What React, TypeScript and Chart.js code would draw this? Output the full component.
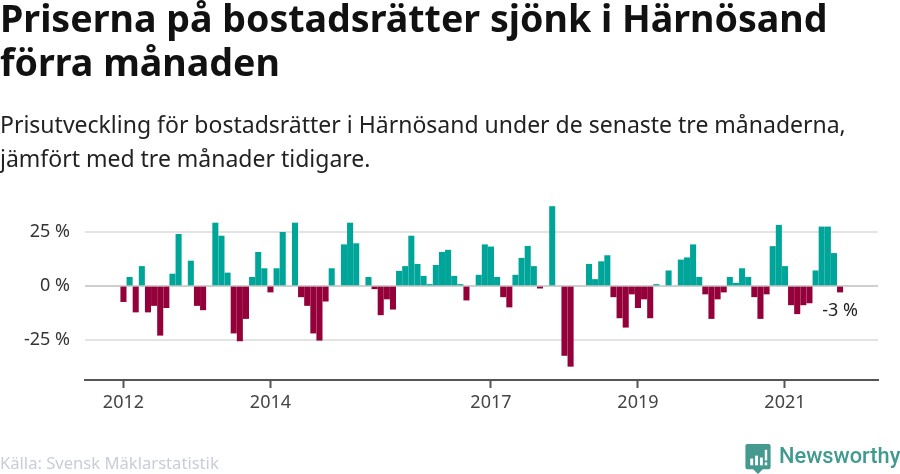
import { useEffect, useRef } from 'react';
import { Chart, registerables, Plugin } from 'chart.js';

Chart.register(...registerables);

const title = 'Priserna på bostadsrätter sjönk i Härnösand förra månaden';
const subtitle =
  'Prisutveckling för bostadsrätter i Härnösand under de senaste tre månaderna, jämfört med tre månader tidigare.';
const source = 'Källa: Svensk Mäklarstatistik';

// en stapel per månad från januari 2012, null = ingen stapel
const monthlyChange: (number | null)[] = [
  -7.2, 4, -12, 9, -12, -9, -22.7, -10, 5.5, 23.8, null, 11.5,
  -9, -11, null, 29, 23, 6, -21.7, -25.3, -15, 4, 15.5, 8,
  -2.8, 8, 24.7, null, 29, -5, -9, -21.7, -25, -7, 8, null,
  19, 29, 19.5, null, 4, -1.3, -13.3, -6, -10.7, 6.8, 9, 23,
  10, 4.5, 0.7, 9.5, 15.5, 16.5, 4.5, 0.7, -6.5, null, 5, 19,
  18, 4, -5, -9.7, 5, 12.8, 18.3, 9, -1, null, 36.6, null,
  -32, -37, null, null, 10, 3, 11.2, 14, -5, -14.7, -19, -3.7,
  -10, -6, -14.7, 0.7, null, 7, null, 12, 13, 19, 4, -3.7,
  -15, -6, -2.8, 4, 1.3, 8, 4, -5, -15, -3.7, 18.2, 28,
  9, -8.7, -12.8, -8.7, -7.8, 7, 27.2, 27.2, 15, -2.8,
];
const yearTickMonths = [0, 24, 60, 84, 108];
const yearTickLabels = ['2012', '2014', '2017', '2019', '2021'];
const valueTicks = [-25, 0, 25];
const lastLabel = '-3 %';

const TEAL = '#00a599';
const CRIMSON = '#93003a';

// skriver ut värdet för sista månaden under stapeln
const lastLabelPlugin: Plugin<'bar'> = {
  id: 'lastLabel',
  afterDatasetsDraw(chart) {
    const { ctx, scales } = chart;
    const x = scales.x.getPixelForValue(monthlyChange.length - 1);
    const y = scales.y.getPixelForValue(-11.6);
    ctx.save();
    ctx.font = '18px "Noto Sans"';
    ctx.fillStyle = '#222';
    ctx.textAlign = 'center';
    ctx.textBaseline = 'middle';
    ctx.fillText(lastLabel, x, y);
    ctx.restore();
  },
};

export default function App() {
  const canvasRef = useRef<HTMLCanvasElement>(null);

  useEffect(() => {
    if (!canvasRef.current) return;
    const chart = new Chart(canvasRef.current, {
      type: 'bar',
      data: {
        datasets: [
          {
            data: monthlyChange.map((y, x) => ({ x, y })) as any,
            backgroundColor: (c: any) => ((c.raw?.y ?? 0) < 0 ? CRIMSON : TEAL),
            barThickness: 5.4,
          },
        ],
      },
      options: {
        animation: false,
        responsive: false,
        layout: { padding: { top: 200, right: 22, left: 0, bottom: 0 } },
        plugins: { legend: { display: false }, tooltip: { enabled: false } },
        scales: {
          x: {
            type: 'linear',
            offset: false,
            min: -6.28,
            max: 123.19,
            afterBuildTicks: (axis) => {
              axis.ticks = yearTickMonths.map((value) => ({ value }));
            },
            afterFit: (axis) => {
              axis.height = 94;
            },
            ticks: {
              autoSkip: false,
              maxRotation: 0,
              padding: 4,
              color: '#444',
              font: { family: 'Noto Sans', size: 18 },
              callback: (v) => yearTickLabels[yearTickMonths.indexOf(Number(v))],
            },
            grid: { offset: false, drawOnChartArea: false, tickLength: 8, tickWidth: 2, color: '#555' },
            border: { color: '#555', width: 2 },
          },
          y: {
            min: -43.3,
            max: 39.6,
            afterBuildTicks: (axis) => {
              axis.ticks = valueTicks.map((value) => ({ value }));
            },
            afterFit: (axis) => {
              axis.width = 85;
            },
            ticks: {
              padding: 15,
              color: '#333',
              font: { family: 'Noto Sans', size: 18 },
              callback: (v) => `${v} %`,
            },
            grid: {
              lineWidth: 2,
              drawTicks: false,
              color: (c) => (c.tick.value === 0 ? '#cfcfcf' : '#e3e3e3'),
            },
            border: { display: false },
          },
        },
      },
      plugins: [lastLabelPlugin],
    });
    return () => chart.destroy();
  }, []);

  return (
    <div
      style={{
        position: 'absolute',
        left: 0,
        top: 0,
        width: 900,
        height: 474,
        overflow: 'hidden',
        background: '#fff',
        fontFamily: '"Noto Sans", sans-serif',
      }}
    >
      <canvas ref={canvasRef} width={900} height={474} style={{ position: 'absolute', left: 0, top: 0 }} />
      <div
        style={{
          position: 'absolute',
          left: 0,
          top: -4,
          width: 880,
          fontSize: 37.6,
          lineHeight: '44px',
          fontWeight: 700,
          color: '#111',
        }}
      >
        {title}
      </div>
      <div
        style={{
          position: 'absolute',
          left: 0,
          top: 107,
          width: 880,
          fontSize: 23,
          lineHeight: '34px',
          color: '#222',
        }}
      >
        {subtitle}
      </div>
      <div style={{ position: 'absolute', left: 0, top: 453, fontSize: 16.6, lineHeight: '20px', color: '#c9cdd6' }}>
        {source}
      </div>
      <svg width={26} height={31} viewBox="0 0 26 32" style={{ position: 'absolute', left: 745, top: 444 }}>
        <path d="M2 0H24Q26 0 26 2V24Q26 26 24 26H18L13 31L8 26H2Q0 26 0 24V2Q0 0 2 0Z" fill="#45998f" />
        <rect x="5" y="15" width="3" height="7" fill="#fff" />
        <rect x="10" y="12" width="3" height="10" fill="#fff" />
        <rect x="15" y="14" width="3" height="8" fill="#fff" />
        <rect x="20" y="6" width="2.5" height="11" fill="#fff" />
        <rect x="20" y="19" width="2.5" height="3" fill="#fff" />
      </svg>
      <div
        style={{
          position: 'absolute',
          left: 779,
          top: 441,
          fontFamily: 'Roboto',
          fontSize: 21.8,
          lineHeight: '30px',
          fontWeight: 500,
          color: '#3f9a90',
        }}
      >
        Newsworthy
      </div>
    </div>
  );
}
